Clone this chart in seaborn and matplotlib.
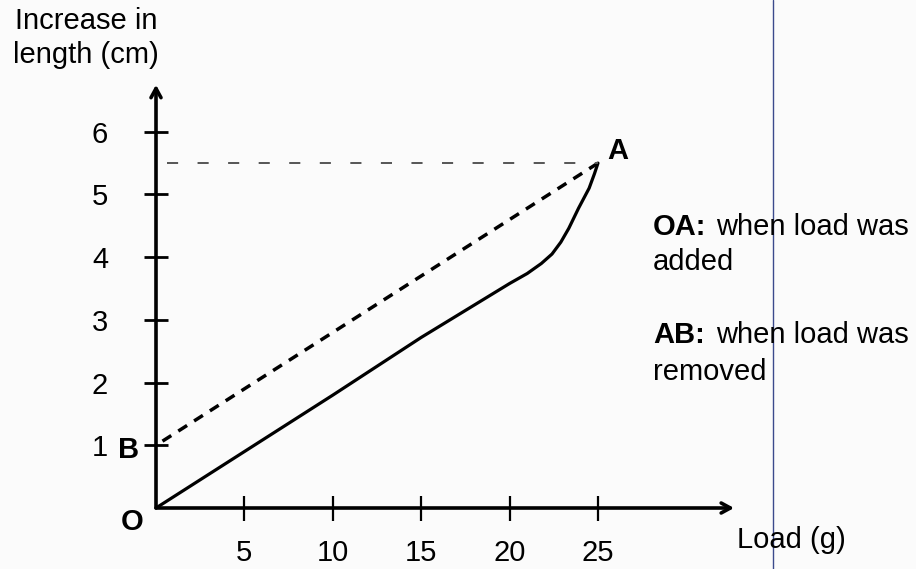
import matplotlib
matplotlib.use("Agg")
import matplotlib.pyplot as plt
from matplotlib.lines import Line2D
import seaborn as sns

# Loading curve OA (load in g, increase in length in cm)
load_added = [0, 5, 10, 15, 20, 21.0, 21.8, 22.4, 22.9, 23.35, 23.9, 24.5, 24.8, 25]
length_added = [0, 0.9, 1.8, 2.72, 3.58, 3.74, 3.9, 4.05, 4.24, 4.46, 4.78, 5.1, 5.33, 5.5]

# Unloading line AB
load_removed = [25, 0]
length_removed = [5.5, 1.0]

# Guide line from the y axis across to A
guide_load = [0.6, 25]
guide_length = [5.5, 5.5]

x_ticks = [5, 10, 15, 20, 25]
y_ticks = [1, 2, 3, 4, 5, 6]

W, H = 916, 569
FS = 21

sns.set_theme(style="white")
plt.rcParams["font.family"] = ["Liberation Sans", "DejaVu Sans"]
plt.rcParams["lines.scale_dashes"] = False
plt.rcParams["text.color"] = "black"

fig = plt.figure(figsize=(W / 100, H / 100), dpi=100)
fig.patch.set_facecolor("#fbfbfb")
ax = fig.add_axes([156 / W, 61 / H, 583.4 / W, 426.4 / H])
ax.set_facecolor("none")
ax.set_xlim(0, 33)
ax.set_ylim(0, 6.8)

sns.lineplot(x=load_added, y=length_added, sort=False, estimator=None,
             color="black", lw=2.3, ax=ax)
sns.lineplot(x=load_removed, y=length_removed, sort=False, estimator=None,
             color="black", lw=2.5, ax=ax)
ax.lines[-1].set_dashes((7.5, 6))
sns.lineplot(x=guide_load, y=guide_length, sort=False, estimator=None,
             color="#555555", lw=1.4, ax=ax)
ax.lines[-1].set_dashes((8, 14))

for s in ax.spines.values():
    s.set_visible(False)

# axes drawn as arrows
arrow = dict(arrowstyle="->,head_length=0.55,head_width=0.3", lw=2.6,
             color="black", shrinkA=0, shrinkB=0)
ax.annotate("", xy=(32.7, 0), xytext=(0, 0), arrowprops=arrow,
            annotation_clip=False)
ax.annotate("", xy=(0, 6.75), xytext=(0, 0), arrowprops=arrow,
            annotation_clip=False)

ax.set_xticks(x_ticks)
ax.set_yticks(y_ticks)
ax.tick_params(axis="x", bottom=True, direction="inout", length=18, width=1.6,
               pad=13, labelsize=FS, colors="black")
ax.tick_params(axis="y", left=True, direction="inout", length=17, width=2.0,
               pad=26, labelsize=FS, colors="black")
ax.set_xlabel("")
ax.set_ylabel("")

# point labels
ax.annotate("A", xy=(load_removed[0], length_removed[0]), xytext=(9, 4),
            textcoords="offset pixels", fontsize=FS, fontweight="bold",
            ha="left", va="baseline")
ax.annotate("B", xy=(load_removed[1], length_removed[1]), xytext=(-17, -13),
            textcoords="offset pixels", fontsize=FS, fontweight="bold",
            ha="right", va="baseline")
ax.annotate("O", xy=(0, 0), xytext=(-13, -22), textcoords="offset pixels",
            fontsize=FS, fontweight="bold", ha="right", va="baseline",
            annotation_clip=False)


def px_text(x, y, s, **kw):
    fig.text(x / W, 1 - y / H, s, fontsize=FS, ha="left", va="baseline",
             color="black", **kw)


px_text(15, 29, "Increase in")
px_text(13, 63, "length (cm)")
px_text(737, 548, "Load (g)")

px_text(653, 235, "OA:", fontweight="bold")
px_text(716, 235, "when load was")
px_text(653, 270, "added")
px_text(653, 343, "AB:", fontweight="bold")
px_text(716, 343, "when load was")
px_text(653, 380, "removed")

fig.add_artist(Line2D([773 / W, 773 / W], [0, 1], transform=fig.transFigure,
                      color="#3b4a8c", lw=1.0))

fig.savefig("out.png", dpi=100, facecolor=fig.get_facecolor())
